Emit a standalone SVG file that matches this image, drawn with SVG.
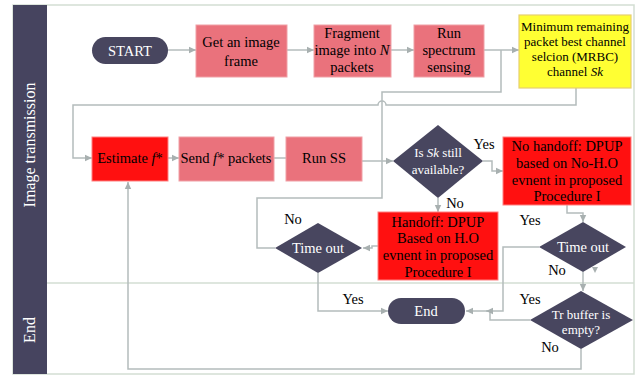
<svg xmlns="http://www.w3.org/2000/svg" width="637" height="377" viewBox="0 0 637 377">
<style>
.lane{fill:#ffffff;stroke:#d3ded3;stroke-width:1.5}
.hdr{fill:#46445f}
.hdrt{font-family:"Liberation Serif",serif;font-size:16px;fill:#ffffff;text-anchor:middle}
.pink{fill:#ea727c;stroke:#f0a0a6;stroke-width:1}
.red{fill:#ff1010;stroke:#ff8080;stroke-width:1}
.yel{fill:#ffff33;stroke:#e6cf70;stroke-width:1.2}
.dark{fill:#48465f}
.t{font-family:"Liberation Serif",serif;font-size:14.5px;fill:#000;text-anchor:middle}
.ts{font-family:"Liberation Serif",serif;font-size:13px;fill:#000;text-anchor:middle}
.tw{font-family:"Liberation Serif",serif;font-size:14.5px;fill:#fff;text-anchor:middle}
.tws{font-family:"Liberation Serif",serif;font-size:13px;fill:#fff;text-anchor:middle}
.lbl{font-family:"Liberation Serif",serif;font-size:14.5px;fill:#000;text-anchor:middle}
.c{fill:none;stroke:#b4bcbc;stroke-width:1.5}
.ca{fill:none;stroke:#b4bcbc;stroke-width:1.5;marker-end:url(#ah)}
</style>
<defs>
<marker id="ah" markerUnits="userSpaceOnUse" markerWidth="8" markerHeight="8" refX="7" refY="4" orient="auto">
<path d="M0,0.8 L7,4 L0,7.2 Z" fill="#a8b0b0"/>
</marker>
</defs>
<g id="lanes">
<rect class="lane" x="13" y="5" width="621" height="369"/>
<line x1="13" y1="283" x2="634" y2="283" stroke="#d3ded3" stroke-width="1.5"/>
<rect class="hdr" x="13" y="5" width="34" height="369"/>
<text class="hdrt" transform="translate(35,145) rotate(-90)">Image transmission</text>
<text class="hdrt" transform="translate(35,330) rotate(-90)">End</text>
</g>
<g id="connectors">
<path class="ca" d="M167,50 H196"/>
<path class="ca" d="M287,50 H314"/>
<path class="ca" d="M391,50 H414"/>
<path class="ca" d="M484,50 H519"/>
<path class="ca" d="M576,88 V105 H386 A4,4 0 0 0 378,105 H73 V158 H92"/>
<path class="c" d="M275,248 H257 V198 H382 V92 H501 V50"/>
<path class="ca" d="M168,158 H179"/>
<path class="c" d="M274,158 H286"/>
<path class="ca" d="M362,161 H393"/>
<path class="ca" d="M483,161 H492 V171 H503"/>
<path class="ca" d="M438,198 V212"/>
<path class="ca" d="M378,246 H372 V248 H363"/>
<path class="ca" d="M318,273 V311 H388"/>
<path class="ca" d="M567,205 V213 H583 V222"/>
<path class="ca" d="M539,247 H503 V311 H466"/>
<path class="ca" d="M583,272 V291"/>
<path class="ca" d="M530,320 H490 V311 H486"/>
<path class="ca" d="M581,349 V369 H128 V182"/>
<path d="M592,267 L598,267 L595,273 Z" fill="#a8b0b0"/>
</g>
<g id="start">
<rect class="dark" x="92" y="37" width="76" height="27" rx="13.5"/>
<text class="tw" x="130" y="56">START</text>
</g>
<g id="get-frame">
<rect class="pink" x="196" y="25" width="91" height="52"/>
<text class="t" x="241" y="47">Get an image</text>
<text class="t" x="241" y="66">frame</text>
</g>
<g id="fragment">
<rect class="pink" x="314" y="25" width="77" height="52"/>
<text class="t" x="352" y="38">Fragment</text>
<text class="t" x="352" y="55">image into <tspan font-style="italic">N</tspan></text>
<text class="t" x="352" y="72">packets</text>
</g>
<g id="run-spectrum">
<rect class="pink" x="414" y="25" width="70" height="52"/>
<text class="t" x="449" y="38">Run</text>
<text class="t" x="449" y="55">spectrum</text>
<text class="t" x="449" y="72">sensing</text>
</g>
<g id="mrbc">
<rect class="yel" x="519" y="15" width="112" height="73"/>
<text class="ts" x="575" y="31">Minimum remaining</text>
<text class="ts" x="575" y="46">packet best channel</text>
<text class="ts" x="575" y="61">selcion (MRBC)</text>
<text class="ts" x="575" y="76">channel <tspan font-style="italic">Sk</tspan></text>
</g>
<g id="estimate">
<rect class="red" x="92" y="137" width="76" height="44"/>
<text class="t" x="130" y="163">Estimate <tspan font-style="italic">f</tspan>*</text>
</g>
<g id="send">
<rect class="pink" x="179" y="137" width="95" height="44"/>
<text class="t" x="226" y="163">Send <tspan font-style="italic">f</tspan>* packets</text>
</g>
<g id="run-ss">
<rect class="pink" x="286" y="137" width="76" height="44"/>
<text class="t" x="324" y="163">Run SS</text>
</g>
<g id="sk-available">
<polygon class="dark" points="438,125 483,161 438,198 393,161"/>
<text class="tws" x="438" y="157">Is <tspan font-style="italic">Sk</tspan> still</text>
<text class="tws" x="438" y="174">available?</text>
</g>
<g id="no-handoff">
<rect class="red" x="503" y="137" width="128" height="68"/>
<text class="t" x="567" y="151">No handoff: DPUP</text>
<text class="t" x="567" y="168">based on No-H.O</text>
<text class="t" x="567" y="185">evnent in proposed</text>
<text class="t" x="567" y="201">Procedure I</text>
</g>
<g id="handoff">
<rect class="red" x="378" y="212" width="120" height="68"/>
<text class="t" x="438" y="227">Handoff: DPUP</text>
<text class="t" x="438" y="243">Based on H.O</text>
<text class="t" x="438" y="260">evnent in proposed</text>
<text class="t" x="438" y="277">Procedure I</text>
</g>
<g id="timeout-left">
<polygon class="dark" points="318,223 362,248 318,273 275,248"/>
<text class="tw" x="318" y="253">Time out</text>
</g>
<g id="timeout-right">
<polygon class="dark" points="583,222 626,247 583,272 539,247"/>
<text class="tw" x="583" y="252">Time out</text>
</g>
<g id="end">
<rect class="dark" x="388" y="298" width="77" height="26" rx="13"/>
<text class="tw" x="426" y="316">End</text>
</g>
<g id="tr-buffer">
<polygon class="dark" points="581,291 633,320 581,349 530,320"/>
<text class="tws" x="581" y="319">Tr buffer is</text>
<text class="tws" x="581" y="334">empty?</text>
</g>
<g id="labels">
<text class="lbl" x="484" y="149">Yes</text>
<text class="lbl" x="455" y="208">No</text>
<text class="lbl" x="293" y="224">No</text>
<text class="lbl" x="353" y="304">Yes</text>
<text class="lbl" x="530" y="225">Yes</text>
<text class="lbl" x="557" y="275">No</text>
<text class="lbl" x="530" y="304">Yes</text>
<text class="lbl" x="550" y="352">No</text>
</g>
</svg>
